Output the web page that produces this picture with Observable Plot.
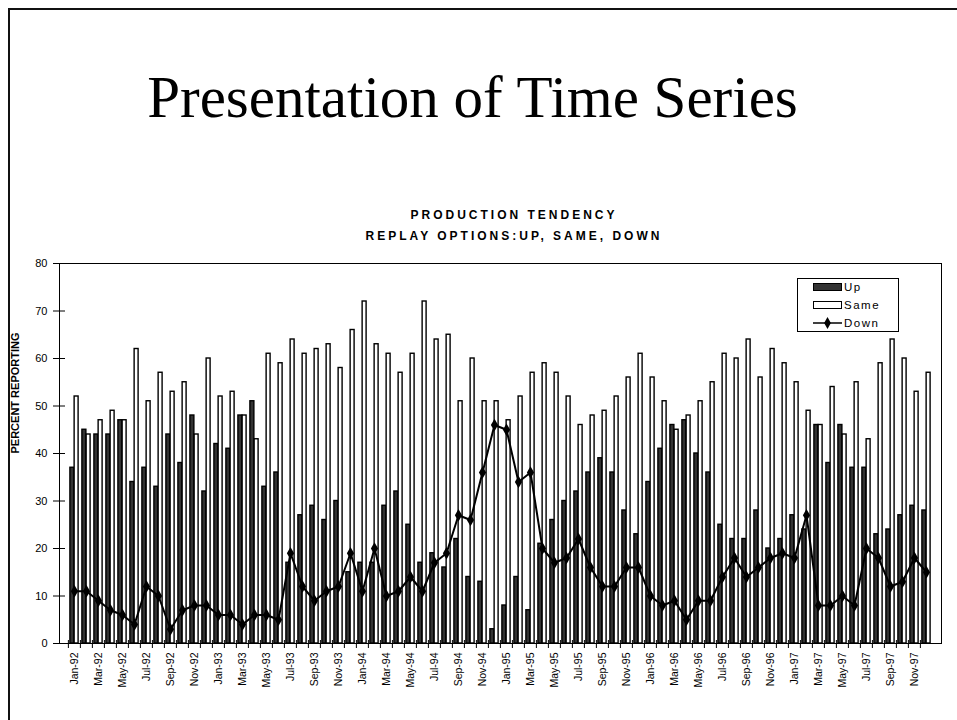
<!DOCTYPE html>
<html><head><meta charset="utf-8">
<script src="https://cdn.jsdelivr.net/npm/d3@7"></script>
<script src="https://cdn.jsdelivr.net/npm/@observablehq/plot@0.6"></script>
<style>
body{margin:0;background:#fff;overflow:hidden}
#wrap{position:relative;width:957px;height:720px;overflow:hidden;font-family:Arial,"Liberation Sans",sans-serif}
#border{position:absolute;left:8px;top:8px;width:1000px;height:800px;border-left:2px solid #111;border-top:2px solid #111;box-sizing:border-box}
#title{position:absolute;left:0;width:945px;top:68px;text-align:center;font-family:"Times New Roman","Liberation Serif",serif;font-size:59px;line-height:59px;color:#000;white-space:nowrap}
.sub{position:absolute;left:0;width:1028px;text-align:center;font-weight:bold;font-size:12px;line-height:12px;letter-spacing:3px;color:#000;white-space:nowrap}
#chart{position:absolute;left:0;top:0}
#legend{position:absolute;left:797px;top:278px}
</style></head>
<body>
<div id="wrap">
  <div id="border"></div>
  <div id="chart"></div>
  <div id="title">Presentation of Time Series</div>
  <div class="sub" style="top:209px">PRODUCTION TENDENCY</div>
  <div class="sub" style="top:230px">REPLAY OPTIONS:UP, SAME, DOWN</div>
  <svg id="legend" width="103" height="55"></svg>
</div>
<script>
// ---- data ----
const monthNames = ["Jan","Feb","Mar","Apr","May","Jun","Jul","Aug","Sep","Oct","Nov","Dec"];
const years = ["92","93","94","95","96","97"];
const months = [];
for (const y of years) for (const m of monthNames) months.push(m + "-" + y);

const up = [37,45,44,44,47,34,37,33,44,38,48,32,
            42,41,48,51,33,36,17,27,29,26,30,15,
            17,17,29,32,25,17,19,16,22,14,13,3,
            8,14,7,21,26,30,32,36,39,36,28,23,
            34,41,46,47,40,36,25,22,22,28,20,22,
            27,24,46,38,46,37,37,23,24,27,29,28];
const same = [52,44,47,49,47,62,51,57,53,55,44,60,
              52,53,48,43,61,59,64,61,62,63,58,66,
              72,63,61,57,61,72,64,65,51,60,51,51,
              47,52,57,59,57,52,46,48,49,52,56,61,
              56,51,45,48,51,55,61,60,64,56,62,59,
              55,49,46,54,44,55,43,59,64,60,53,57];
const down = [11,11,9,7,6,4,12,10,3,7,8,8,
              6,6,4,6,6,5,19,12,9,11,12,19,
              11,20,10,11,14,11,17,19,27,26,36,46,
              45,34,36,20,17,18,22,16,12,12,16,16,
              10,8,9,5,9,9,14,18,14,16,18,19,
              18,27,8,8,10,8,20,18,12,13,18,15];
const seriesNames = ["Up","Same","Down"];
const yTicks = [0,10,20,30,40,50,60,70,80];
const xTickLabels = months.filter((d,i)=>i%2===0);
const yLabel = "PERCENT REPORTING";

// ---- layout ----
const W = 957, H = 720, mL = 59, mR = 16, mT = 263, mB = 77;
const plotW = W - mL - mR, plotH = H - mT - mB;
const bw = plotW / months.length;
const gap = 1.9;
const upFill = "#333333";
const barStroke = 1.4;

const data = months.map((m,i)=>({month:m, up:up[i], same:same[i], down:down[i]}));

const chart = Plot.plot({
  width: W, height: H, marginLeft: mL, marginRight: mR, marginTop: mT, marginBottom: mB,
  style: {fontFamily: 'Arial, "Liberation Sans", sans-serif', background: "transparent", overflow: "visible", color: "#000"},
  x: {type: "band", domain: months, paddingInner: 0, paddingOuter: 0, label: null},
  y: {domain: [0, 80], label: null},
  marks: [
    Plot.barY(data, {x: "month", y: "up", fill: upFill, stroke: "#000", strokeWidth: barStroke, insetLeft: gap, insetRight: bw/2}),
    Plot.barY(data, {x: "month", y: "same", fill: "#fff", stroke: "#000", strokeWidth: barStroke, insetLeft: bw/2, insetRight: gap}),
    Plot.line(data, {x: "month", y: "down", stroke: "#000", strokeWidth: 2}),
    Plot.dot(data, {x: "month", y: "down", symbol: "diamond", r: 3.8, fill: "#000", stroke: "none"}),
    Plot.frame({stroke: "#000", strokeWidth: 1}),
    Plot.tickX(months, {x: d=>d, dx: -bw/2, insetTop: plotH - 3, insetBottom: -5, stroke: "#000"}),
    Plot.tickY(yTicks, {y: d=>d, insetLeft: -6, insetRight: plotW - 6, stroke: "#000"}),
    Plot.axisY({ticks: yTicks, tickSize: 0, tickPadding: 12, fontSize: 11, label: null}),
    Plot.axisX({ticks: xTickLabels, tickSize: 0, tickPadding: 9, tickRotate: -90, fontSize: 10.5, label: null}),
    Plot.text([yLabel], {text: d=>d, frameAnchor: "left", dx: -44, dy: 0, rotate: -90, fontWeight: "bold", fontSize: 11})
  ]
});
document.getElementById("chart").appendChild(chart);

// ---- legend ----
const lg = d3.select("#legend");
lg.append("rect").attr("x",0.5).attr("y",0.5).attr("width",101).attr("height",53).attr("fill","#fff").attr("stroke","#000");
const rowY = [9, 27, 45];
seriesNames.forEach((name, i) => {
  const cy = rowY[i];
  if (i < 2) {
    lg.append("rect").attr("x",16.5).attr("y",cy-3.5).attr("width",28).attr("height",7)
      .attr("fill", i===0 ? upFill : "#fff").attr("stroke","#000");
  } else {
    lg.append("line").attr("x1",16).attr("x2",45).attr("y1",cy).attr("y2",cy).attr("stroke","#000").attr("stroke-width",1.5);
    lg.append("path").attr("d", d3.symbol(d3.symbolDiamond, 40)()).attr("transform",`translate(30.5,${cy})`).attr("fill","#000");
  }
  lg.append("text").attr("x",47).attr("y",cy+4).attr("font-size",11.5).attr("letter-spacing","1.5px")
    .attr("font-family",'Arial, "Liberation Sans", sans-serif').text(name);
});
</script>
</body></html>
